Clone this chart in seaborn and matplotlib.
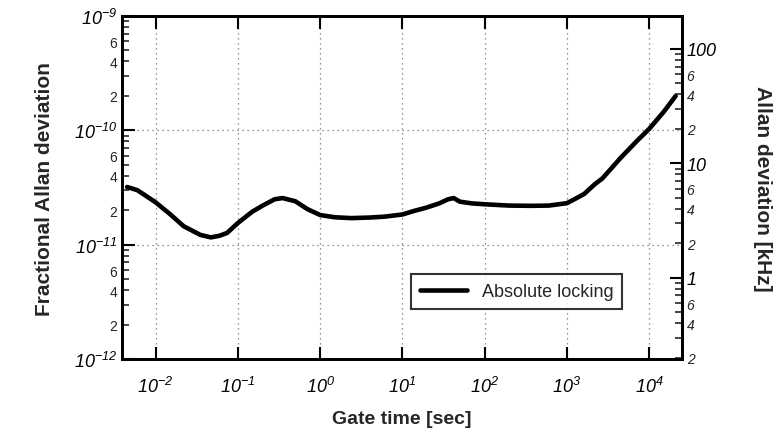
import numpy as np
import matplotlib
matplotlib.use("Agg")
import matplotlib.pyplot as plt
import matplotlib.ticker as mticker
import seaborn as sns
import pandas as pd

# Gate time [s] and fractional Allan deviation
gate_time = [0.0045, 0.006, 0.01, 0.015, 0.022, 0.035, 0.047, 0.06, 0.074, 0.1,
             0.15, 0.2, 0.28, 0.35, 0.5, 0.7, 1.0, 1.5, 2.4, 4.0, 6.0, 10.0,
             14.0, 19.5, 28.0, 36.0, 42.0, 50.0, 70.0, 100.0, 200.0,
             360.0, 600.0, 1000.0, 1300.0, 1620.0, 2200.0, 2700.0, 4500.0,
             7000.0, 10000.0, 15000.0, 21000.0]
allan_dev = [3.2e-11, 3.0e-11, 2.35e-11, 1.85e-11, 1.45e-11, 1.22e-11, 1.16e-11,
             1.2e-11, 1.27e-11, 1.55e-11, 1.95e-11, 2.2e-11, 2.5e-11, 2.56e-11,
             2.4e-11, 2.05e-11, 1.82e-11, 1.74e-11, 1.71e-11, 1.73e-11, 1.76e-11,
             1.84e-11, 1.98e-11, 2.11e-11, 2.3e-11, 2.5e-11, 2.56e-11,
             2.38e-11, 2.3e-11, 2.26e-11, 2.2e-11, 2.19e-11, 2.2e-11, 2.31e-11,
             2.55e-11, 2.78e-11, 3.4e-11, 3.8e-11, 5.75e-11, 8.0e-11, 1.03e-10,
             1.45e-10, 2.0e-10]

x_ticks = [1e-2, 1e-1, 1e0, 1e1, 1e2, 1e3, 1e4]
x_lim = (0.0039, 25000)
y_lim = (1e-12, 1e-9)
carrier_khz = 1.94e11  # fractional -> kHz

df = pd.DataFrame({"Gate time": gate_time, "ADEV": allan_dev})

sns.set_theme(style="ticks")
plt.rcParams["font.family"] = ["Liberation Sans", "DejaVu Sans"]
plt.rcParams["mathtext.fontset"] = "custom"
plt.rcParams["mathtext.rm"] = "Liberation Sans:italic"
plt.rcParams["mathtext.it"] = "Liberation Sans:italic"


def log_ticks(lo, hi, subs):
    out = []
    for e in range(int(np.floor(np.log10(lo))) - 1, int(np.ceil(np.log10(hi))) + 1):
        for s in subs:
            v = s * 10.0 ** e
            if lo * 0.999 <= v <= hi * 1.001:
                out.append(v)
    return out


def major_fmt(v, p):
    return r"$10^{%d}$" % round(np.log10(v))


def minor_fmt(v, p):
    m = round(v / 10 ** np.floor(np.log10(v) + 1e-9))
    return str(m) if m in (2, 4, 6) else ""


fig = plt.figure(figsize=(7.82, 4.35), dpi=100)
ax = fig.add_axes([0.156, 0.172, 0.716, 0.789])

sns.lineplot(data=df, x="Gate time", y="ADEV", ax=ax, color="black",
             linewidth=3.3, label="Absolute locking")
ax.set_xscale("log")
ax.set_yscale("log")
ax.set_xlim(*x_lim)
ax.set_ylim(*y_lim)

ax.grid(which="major", linestyle=(0, (1, 3)), color="0.45", linewidth=0.9)
ax.xaxis.set_major_locator(mticker.FixedLocator(x_ticks))
ax.xaxis.set_minor_locator(mticker.NullLocator())
ax.xaxis.set_major_formatter(mticker.FuncFormatter(major_fmt))

ax.yaxis.set_major_locator(mticker.FixedLocator(log_ticks(*y_lim, [1])))
ax.yaxis.set_minor_locator(mticker.FixedLocator(log_ticks(*y_lim, range(2, 10))))
ax.yaxis.set_major_formatter(mticker.FuncFormatter(major_fmt))
ax.yaxis.set_minor_formatter(mticker.FuncFormatter(minor_fmt))

ax.tick_params(axis="both", which="major", direction="in", length=9, width=1.5,
               labelsize=13, top=True, right=False, colors="black")
ax.tick_params(axis="y", which="minor", direction="in", length=5, width=1.2,
               labelsize=10, right=False)
ax.tick_params(axis="x", which="major", pad=12)

k_lo, k_hi = y_lim[0] * carrier_khz, y_lim[1] * carrier_khz
ax2 = ax.twinx()
ax2.set_yscale("log")
ax2.set_ylim(k_lo, k_hi)
ax2.yaxis.set_major_locator(mticker.FixedLocator(log_ticks(k_lo, k_hi, [1])))
ax2.yaxis.set_minor_locator(mticker.FixedLocator(log_ticks(k_lo, k_hi, range(2, 10))))
ax2.yaxis.set_major_formatter(mticker.FuncFormatter(lambda v, p: "%g" % v))
ax2.yaxis.set_minor_formatter(mticker.FuncFormatter(minor_fmt))
ax2.tick_params(axis="y", which="major", direction="in", length=9, width=1.5,
                labelsize=13, colors="black")
ax2.tick_params(axis="y", which="minor", direction="in", length=5, width=1.2,
                labelsize=10)
for lab in ax2.get_yticklabels(which="both"):
    lab.set_style("italic")

for a in (ax, ax2):
    for s in a.spines.values():
        s.set_linewidth(2)
        s.set_color("black")

ax.set_xlabel("Gate time [sec]", fontsize=14, fontweight="bold", labelpad=10)
ax.set_ylabel("Fractional Allan deviation", fontsize=15, fontweight="bold", labelpad=14)
ax2.set_ylabel("Allan deviation [kHz]", fontsize=15, fontweight="bold",
               rotation=270, labelpad=40)

leg = ax.legend(loc="lower right", bbox_to_anchor=(0.91, 0.12), fontsize=13,
                frameon=True, fancybox=False, edgecolor="black",
                handlelength=2.6, borderpad=0.5)
leg.get_frame().set_linewidth(1.5)

fig.savefig("out.png", dpi=100, facecolor="white")
